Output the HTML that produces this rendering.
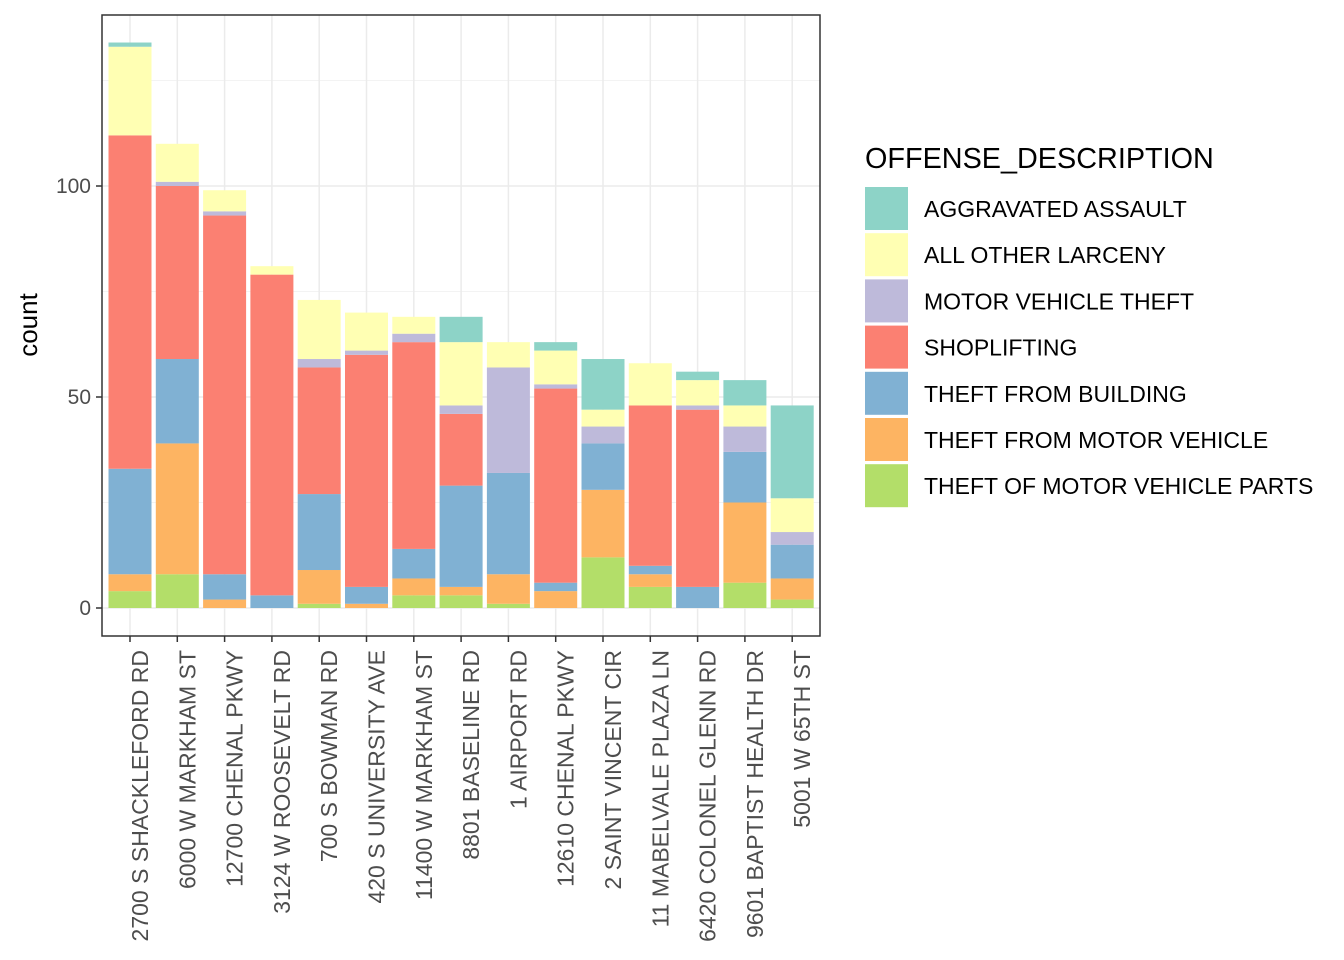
<!DOCTYPE html>
<html><head><meta charset="utf-8"><style>
body{margin:0;background:#fff}
svg{display:block;font-family:"Liberation Sans",Arial,sans-serif}
</style></head><body>
<svg id="chart" width="1344" height="960"></svg>
<script>
const categories=["2700 S SHACKLEFORD RD","6000 W MARKHAM ST","12700 CHENAL PKWY","3124 W ROOSEVELT RD","700 S BOWMAN RD","420 S UNIVERSITY AVE","11400 W MARKHAM ST","8801 BASELINE RD","1 AIRPORT RD","12610 CHENAL PKWY","2 SAINT VINCENT CIR","11 MABELVALE PLAZA LN","6420 COLONEL GLENN RD","9601 BAPTIST HEALTH DR","5001 W 65TH ST"];
const offenses=["AGGRAVATED ASSAULT","ALL OTHER LARCENY","MOTOR VEHICLE THEFT","SHOPLIFTING","THEFT FROM BUILDING","THEFT FROM MOTOR VEHICLE","THEFT OF MOTOR VEHICLE PARTS"];
const colors=["#8DD3C7","#FFFFB3","#BEBADA","#FB8072","#80B1D3","#FDB462","#B3DE69"];
// series values (per category)
const partsVals=[4,8,0,0,1,0,3,3,1,0,12,5,0,6,2];
const tfmvVals=[4,31,2,0,8,1,4,2,7,4,16,3,0,19,5];
const bldgVals=[25,20,6,3,18,4,7,24,24,2,11,2,5,12,8];
const shopVals=[79,41,85,76,30,55,49,17,0,46,0,38,42,0,0];
const mvtVals=[0,1,1,0,2,1,2,2,25,1,4,0,1,6,3];
const larcVals=[21,9,5,2,14,9,4,15,6,8,4,10,6,5,8];
const aaVals=[1,0,0,0,0,0,0,6,0,2,12,0,2,6,22];
const yTicks=[0,50,100];
const yMinor=[25,75,125];

const NS="http://www.w3.org/2000/svg";
const svg=document.getElementById("chart");
function mk(t,a,p){const e=document.createElementNS(NS,t);for(const k in a)e.setAttribute(k,a[k]);(p||svg).appendChild(e);return e;}
const L=102,R=820,T=15,B=636;
const y=v=>608-v*4.22;
const xc=i=>130+i*47.3;
const bw=43;
mk("rect",{x:L,y:T,width:R-L,height:B-T,fill:"#fff"});
const grid=mk("g",{});


yMinor.forEach(v=>mk("line",{x1:L,x2:R,y1:y(v),y2:y(v),stroke:"#f3f3f3","stroke-width":1}, grid));
yTicks.forEach(v=>mk("line",{x1:L,x2:R,y1:y(v),y2:y(v),stroke:"#ebebeb","stroke-width":1.5}, grid));
categories.forEach((c,i)=>mk("line",{x1:xc(i),x2:xc(i),y1:T,y2:B,stroke:"#ebebeb","stroke-width":1.5}, grid));
const stack=[partsVals,tfmvVals,bldgVals,shopVals,mvtVals,larcVals,aaVals];
const stackColors=[colors[6],colors[5],colors[4],colors[3],colors[2],colors[1],colors[0]];
categories.forEach((c,i)=>{
  let base=0;
  stack.forEach((s,k)=>{
    const v=s[i]; if(!v){return;}
    const r=mk("rect",{x:xc(i)-bw/2,y:y(base+v),width:bw,height:y(base)-y(base+v),fill:stackColors[k]});
    
    
    base+=v;
  });
  mk("line",{x1:xc(i),x2:xc(i),y1:B,y2:B+6,stroke:"#333","stroke-width":1.5});
  const t=mk("text",{x:0,y:0,transform:`translate(${xc(i)+18},650) rotate(-90)`,"text-anchor":"end","font-size":23,fill:"#4d4d4d"});
  t.textContent=c;
  
  
});
yTicks.forEach(v=>{
  mk("line",{x1:L-6,x2:L,y1:y(v),y2:y(v),stroke:"#333","stroke-width":1.5});
  const t=mk("text",{x:L-11,y:y(v)+7,"text-anchor":"end","font-size":21,fill:"#4d4d4d"});
  t.textContent=v;
  
  
});
const border=mk("rect",{x:L,y:T,width:R-L,height:B-T,fill:"none",stroke:"#333","stroke-width":1.5});


const yl=mk("text",{x:0,y:0,transform:"translate(37,325) rotate(-90)","text-anchor":"middle","font-size":26,fill:"#000"});
yl.textContent="count";


const lt=mk("text",{x:865,y:168,"font-size":28.8,fill:"#000"});
lt.textContent="OFFENSE_DESCRIPTION";


offenses.forEach((o,k)=>{
  const g=mk("g",{});
  
  
  const yy=187+k*46.2;
  mk("rect",{x:865,y:yy,width:43,height:43,fill:colors[k]},g);
  const t=mk("text",{x:924,y:yy+30,"font-size":23,fill:"#000"},g);
  t.textContent=o;
});
</script>
</body></html>
